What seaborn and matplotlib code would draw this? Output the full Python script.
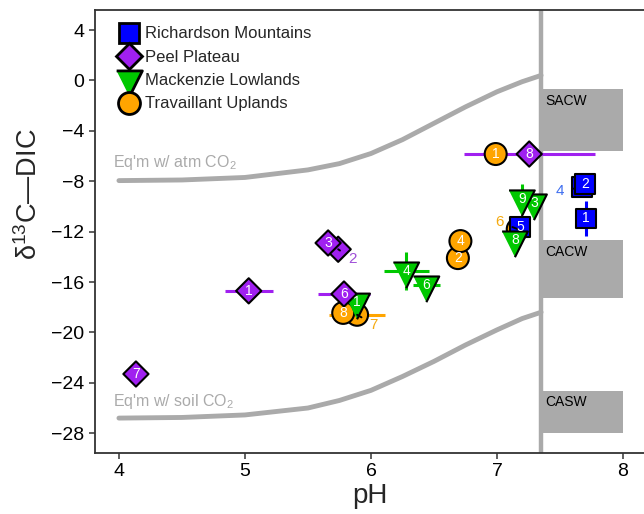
import numpy as np
import pandas as pd
import matplotlib
matplotlib.use("Agg")
import matplotlib.pyplot as plt
import seaborn as sns
from matplotlib.patches import Rectangle

# ---------------- data ----------------
regions = ["Richardson Mountains", "Peel Plateau", "Mackenzie Lowlands", "Travaillant Uplands"]
region_colors = ["#0000FF", "#A020F0", "#00C800", "#FFA500"]
label_colors = ["#3F6FF0", "#A050D8", "#00C800", "#F5AA10"]

# sites, in drawing order (bottom to top)
site_region = (["Travaillant Uplands"] * 6 + ["Richardson Mountains"] * 4 +
               ["Mackenzie Lowlands"] * 6 + ["Peel Plateau"] * 6)
site_id = [1, 2, 4, 6, 7, 8,
           4, 2, 1, 5,
           1, 3, 4, 6, 8, 9,
           1, 2, 3, 6, 7, 8]
site_ph = [6.99, 6.69, 6.71, 7.165, 5.89, 5.78,
           7.675, 7.70, 7.706, 7.183,
           5.89, 7.294, 6.28, 6.44, 7.143, 7.198,
           5.03, 5.74, 5.66, 5.786, 4.135, 7.256]
site_d13c = [-5.84, -14.1, -12.75, -11.8, -18.6, -18.45,
             -8.46, -8.22, -10.95, -11.63,
             -17.6, -9.73, -15.13, -16.24, -12.67, -9.41,
             -16.7, -13.4, -12.9, -16.95, -23.3, -5.84]
site_ph_err = [0, 0, 0, 0, 0.22, 0,
               0, 0, 0, 0,
               0, 0, 0.18, 0.11, 0, 0,
               0.19, 0, 0, 0.21, 0, 0.52]
site_d13c_err = [0, 0, 0, 0, 0, 0,
                 0, 0, 1.39, 0,
                 0, 0, 1.5, 0, 0, 1.2,
                 0, 0, 0, 0, 0, 0]
# sites whose number is written outside the marker (hidden / overlapped)
outside_labels = [("Travaillant Uplands", 6), ("Travaillant Uplands", 7),
                  ("Richardson Mountains", 4), ("Peel Plateau", 2)]

# equilibrium curves
curve_ph = [4.0, 4.5, 5.0, 5.5, 5.75, 6.0, 6.25, 6.5, 6.75, 7.0, 7.2, 7.35]
curve_atm = [-7.95, -7.9, -7.7, -7.1, -6.6, -5.8, -4.7, -3.4, -2.1, -0.9, -0.1, 0.4]
curve_soil = [-26.8, -26.75, -26.55, -26.0, -25.4, -24.6, -23.5, -22.3, -21.0, -19.8, -18.9, -18.4]

# ocean water masses
ph_boundary = 7.35
wm_names = ["SACW", "CACW", "CASW"]
wm_top = [-0.7, -12.7, -24.65]
wm_bottom = [-5.6, -17.3, -28.0]
wm_ph_max = 8.0

x_ticks = [4, 5, 6, 7, 8]
y_ticks = [-28, -24, -20, -16, -12, -8, -4, 0, 4]

# ---------------- styling ----------------
sns.set_theme(style="white")
plt.rcParams["font.family"] = ["Liberation Sans", "DejaVu Sans"]
plt.rcParams["mathtext.fontset"] = "custom"
plt.rcParams["mathtext.rm"] = "Liberation Sans"
plt.rcParams["mathtext.it"] = "Liberation Sans:italic"
plt.rcParams["axes.unicode_minus"] = True

grey = "#AAAAAA"
tri_down = [(-1.0, 2 / 3), (1.0, 2 / 3), (0.0, -4 / 3)]
marker_map = {"Richardson Mountains": "s", "Peel Plateau": "D",
              "Mackenzie Lowlands": tri_down, "Travaillant Uplands": "o"}
size_map = {"Richardson Mountains": 195, "Peel Plateau": 165,
            "Mackenzie Lowlands": 610, "Travaillant Uplands": 250}
palette = dict(zip(regions, region_colors))
lab_col = dict(zip(regions, label_colors))

df = pd.DataFrame({"region": site_region, "id": site_id, "pH": site_ph,
                   "d13C": site_d13c, "xerr": site_ph_err, "yerr": site_d13c_err})

fig = plt.figure(figsize=(6.44, 5.14), dpi=100)
ax = fig.add_axes([0.1475, 0.1187, 0.8525, 0.8618])

# water-mass boxes and boundary line
for name, top, bot in zip(wm_names, wm_top, wm_bottom):
    ax.add_patch(Rectangle((ph_boundary, bot), wm_ph_max - ph_boundary, top - bot,
                           facecolor=grey, edgecolor="none", zorder=0.5))
    ax.text(ph_boundary + 0.03, top - 0.35, name, ha="left", va="top",
            fontsize=10, color="black", zorder=0.6)
ax.axvline(ph_boundary, color=grey, lw=3.2, zorder=0.7)

# equilibrium curves
sns.lineplot(x=curve_ph, y=curve_atm, ax=ax, color=grey, lw=3.5, zorder=0.8)
sns.lineplot(x=curve_ph, y=curve_soil, ax=ax, color=grey, lw=3.5, zorder=0.8)
ax.text(3.95, -6.55, "Eq'm w/ atm CO$_2$", color=grey, fontsize=11.5,
        ha="left", va="center")
ax.text(3.95, -25.5, "Eq'm w/ soil CO$_2$", color=grey, fontsize=11.5,
        ha="left", va="center")

# error bars
for _, r in df.iterrows():
    if r.xerr > 0 or r.yerr > 0:
        ax.errorbar(r.pH, r.d13C, xerr=r.xerr if r.xerr > 0 else None,
                    yerr=r.yerr if r.yerr > 0 else None, fmt="none",
                    ecolor=palette[r.region], elinewidth=2.2, capsize=0, zorder=1)

# points
sns.scatterplot(data=df, x="pH", y="d13C", hue="region", style="region", size="region",
                hue_order=regions, style_order=regions, size_order=regions,
                palette=palette, markers=marker_map, sizes=size_map,
                edgecolor="black", linewidth=1.5, ax=ax, zorder=2, legend=True)

# site numbers
label_offsets = {("Travaillant Uplands", 6): (-13, 5),
                 ("Travaillant Uplands", 7): (12, -7),
                 ("Richardson Mountains", 4): (-16, -3),
                 ("Peel Plateau", 2): (10, -7)}
for _, r in df.iterrows():
    key = (r.region, r.id)
    if key in outside_labels:
        dx, dy = label_offsets[key]
        ax.annotate(str(r.id), xy=(r.pH, r.d13C), xytext=(dx, dy),
                    textcoords="offset points", ha="center", va="center",
                    fontsize=11, color=lab_col[r.region], zorder=4,
                    arrowprops=dict(arrowstyle="-", color="black", lw=1.4,
                                    shrinkA=4, shrinkB=6))
    else:
        ax.text(r.pH, r.d13C, str(r.id), ha="center", va="center",
                fontsize=10, color="white", zorder=4)

# axes
ax.set_xlim(3.81, 8.167)
ax.set_ylim(-29.57, 5.59)
ax.set_xticks(x_ticks)
ax.set_yticks(y_ticks)
ax.set_xticklabels([str(v) for v in x_ticks])
ax.set_yticklabels([str(v).replace("-", "\u2212") for v in y_ticks])
ax.set_xlabel("pH", fontsize=20, labelpad=2)
ax.set_ylabel("\u03b4$^{13}$C\u2014DIC", fontsize=19.5)
ax.yaxis.set_label_coords(-0.095, 0.585)
ax.tick_params(axis="both", labelsize=14, length=4, width=1.1, color="#333333",
               labelcolor="black", direction="out", bottom=True, left=True)
for side in ["left", "bottom", "top"]:
    ax.spines[side].set_color("#333333")
    ax.spines[side].set_linewidth(1.3)
ax.spines["right"].set_visible(False)
ax.grid(False)

sns.move_legend(ax, "upper left", bbox_to_anchor=(0.033, 0.978), frameon=False,
                title=None, fontsize=12, handlelength=1.1, handletextpad=0.4,
                labelspacing=0.5, borderaxespad=0, borderpad=0.4)
leg = ax.get_legend()
for h in leg.legend_handles:
    h.set_markeredgecolor("black")
    h.set_markeredgewidth(2.0)

fig.savefig("out.png", dpi=100)
